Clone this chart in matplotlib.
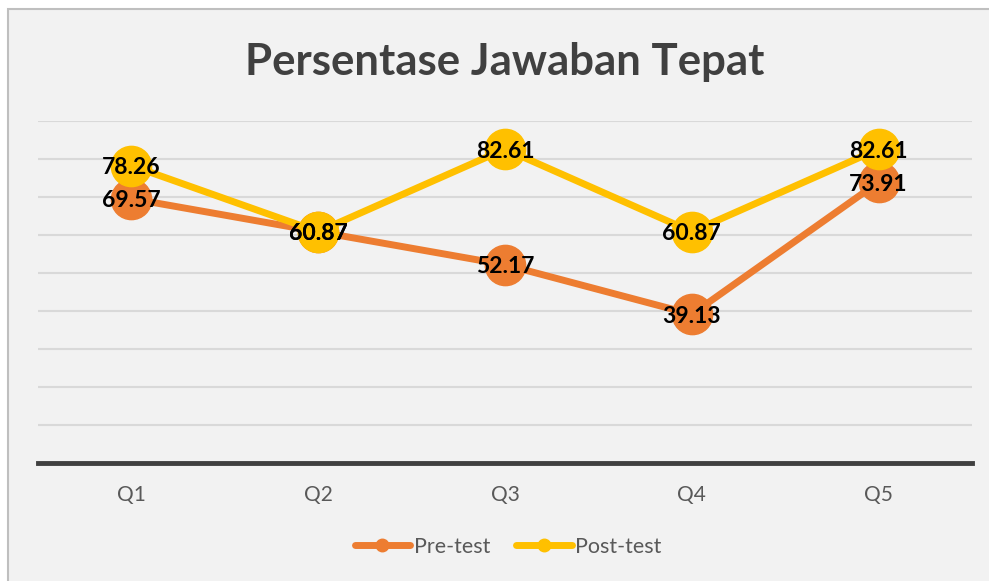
import matplotlib
matplotlib.use("Agg")
import matplotlib.pyplot as plt
from matplotlib.patches import Rectangle
from matplotlib.lines import Line2D

categories = ["Q1", "Q2", "Q3", "Q4", "Q5"]
pre_test = [69.57, 60.87, 52.17, 39.13, 73.91]
post_test = [78.26, 60.87, 82.61, 60.87, 82.61]
series_names = ["Pre-test", "Post-test"]
title = "Persentase Jawaban Tepat"

plt.rcParams['font.family'] = ['Lato', 'DejaVu Sans']

fig = plt.figure(figsize=(9.89, 5.81), dpi=100)
fig.patch.set_facecolor("white")
# chart area background with border
bg = Rectangle((8/989, -0.2), 1.2, 1.2 - 9/581, transform=fig.transFigure,
               facecolor="#f2f2f2", edgecolor="#bfbfbf", linewidth=1.5, zorder=-1)
fig.patches.append(bg)

ax = fig.add_axes([38/989, 1 - 463/581, (972-38)/989, (463-121)/581])
ax.set_facecolor("none")
x = list(range(len(categories)))

orange = "#ed7d31"
yellow = "#ffc000"
ax.plot(x, pre_test, color=orange, lw=5, marker="o", ms=29, solid_capstyle="round",
        label=series_names[0], zorder=3)
ax.plot(x, post_test, color=yellow, lw=5, marker="o", ms=29, solid_capstyle="round",
        label=series_names[1], zorder=4)

for series in (pre_test, post_test):
    for xi, v in zip(x, series):
        ax.annotate(f"{v:.2f}", (xi, v), xytext=(0, -1.5), textcoords="offset points",
                    ha="center", va="center", fontsize=16.5,
                    fontweight="bold", color="black", zorder=6)

ax.set_xlim(-0.5, 4.5)
ax.set_ylim(0, 90)
ax.set_yticks(range(10, 91, 10))
ax.yaxis.grid(True, color="#d9d9d9", lw=1.5)
ax.set_axisbelow(True)
ax.tick_params(axis="y", left=False, labelleft=False)
ax.tick_params(axis="x", bottom=False, labelsize=15, labelcolor="#595959", pad=12)
ax.set_xticks(x)
ax.set_xticklabels(categories)
for s in ["top", "right", "left"]:
    ax.spines[s].set_visible(False)
ax.spines["bottom"].set_color("#404040")
ax.spines["bottom"].set_linewidth(3.5)
ax.spines["bottom"].set_zorder(5)

fig.text(505/989, 1 - 62/581, title, ha="center", va="center", fontsize=31.5,
         fontweight="bold", color="#404040")

handles = [Line2D([0], [0], color=orange, lw=5, marker="o", ms=9, solid_capstyle="round"),
           Line2D([0], [0], color=yellow, lw=5, marker="o", ms=9, solid_capstyle="round")]
leg = fig.legend(handles, series_names, loc="center", bbox_to_anchor=(508/989, 1 - 547/581),
                 ncol=2, frameon=False, fontsize=15.5, handlelength=2.6, handletextpad=0.15,
                 columnspacing=1.2)
for t in leg.get_texts():
    t.set_color("#595959")

fig.savefig("out.png", dpi=100, facecolor=fig.get_facecolor())
